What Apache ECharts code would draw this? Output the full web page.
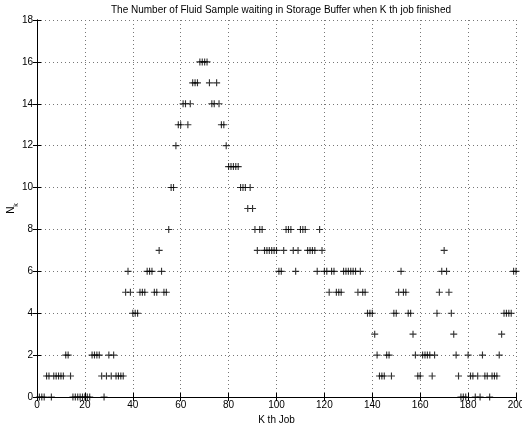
<!DOCTYPE html>
<html><head><meta charset="utf-8">
<script src="https://cdn.jsdelivr.net/npm/echarts@6/dist/echarts.min.js"></script>
<style>html,body{margin:0;padding:0;background:#fff}#c{width:522px;height:431px}</style>
</head><body><div id="c"></div>
<script>
const titleText = 'The Number of Fluid Sample waiting in Storage Buffer when K th job finished';
const xAxisTitle = 'K th Job';
// N_k for k = 1..200
const waitingCounts = [
  0,0,0,1,1,0,1,1,1,1,
  1,2,2,1,0,0,0,0,0,0,
  0,0,2,2,2,2,1,0,1,2,
  1,2,1,1,1,1,5,6,5,4,
  4,4,5,5,5,6,6,6,5,5,
  7,6,5,5,8,10,10,12,13,13,
  14,14,13,14,15,15,15,16,16,16,
  16,15,14,14,15,14,13,13,12,11,
  11,11,11,11,10,10,10,9,10,9,
  8,7,8,8,7,7,7,7,7,7,
  6,6,7,8,8,8,7,6,7,8,
  8,8,7,7,7,7,6,8,7,6,
  6,5,6,6,5,5,5,6,6,6,
  6,6,6,5,6,5,5,4,4,4,
  3,2,1,1,1,2,2,1,4,4,
  5,6,5,5,4,4,3,2,1,1,
  2,2,2,2,1,2,4,5,6,7,
  6,5,4,3,2,1,0,0,0,2,
  1,1,0,1,0,2,1,1,0,1,
  1,1,2,3,4,4,4,4,6,6
];
const xTickValues = [0,20,40,60,80,100,120,140,160,180,200];
const yTickValues = [0,2,4,6,8,10,12,14,16,18];

const points = waitingCounts.map((v, i) => [i + 1, v]);
const plusPath = 'path://M4.2,0 H5.8 V4.2 H10 V5.8 H5.8 V10 H4.2 V5.8 H0 V4.2 H4.2 Z';
const FONT = 'Liberation Sans, Arial, Helvetica, sans-serif';
const dotted = { show: true, lineStyle: { color: '#777', width: 1, type: [1, 3] } };
const lbl = { color: '#000', fontSize: 10, fontFamily: FONT };

const chart = echarts.init(document.getElementById('c'), null, { renderer: 'canvas' });
chart.setOption({
  animation: false,
  backgroundColor: '#fff',
  title: {
    text: titleText, left: 276, top: 0, textAlign: 'center',
    textStyle: { fontSize: 10, fontWeight: 'normal', color: '#000', fontFamily: FONT }
  },
  grid: { left: 37, right: 6, top: 20, bottom: 34, show: false, containLabel: false, outerBoundsMode: 'none' },
  xAxis: [{
    type: 'value', min: xTickValues[0], max: xTickValues[xTickValues.length - 1],
    interval: xTickValues[1] - xTickValues[0],
    name: xAxisTitle, nameLocation: 'middle', nameGap: 17,
    nameTextStyle: { color: '#000', fontSize: 10, fontFamily: FONT },
    axisLine: { show: true, lineStyle: { color: '#000', width: 1 } },
    axisTick: { show: true, inside: true, length: 4, lineStyle: { color: '#000' } },
    axisLabel: Object.assign({ margin: 3 }, lbl),
    splitLine: dotted
  }, {
    type: 'value', position: 'top', min: xTickValues[0], max: xTickValues[xTickValues.length - 1],
    interval: xTickValues[1] - xTickValues[0],
    axisLine: { show: true, lineStyle: { color: '#000', width: 1 } },
    axisTick: { show: true, inside: true, length: 4, lineStyle: { color: '#000' } },
    axisLabel: { show: false }, splitLine: { show: false }
  }],
  yAxis: [{
    type: 'value', min: yTickValues[0], max: yTickValues[yTickValues.length - 1],
    interval: yTickValues[1] - yTickValues[0],
    name: '{n|N}{k|k}', nameLocation: 'middle', nameGap: 17, nameRotate: 90, nameMoveOverlap: false,
    nameTextStyle: {
      color: '#000', fontFamily: FONT,
      rich: { n: { fontSize: 10, fontFamily: FONT, color: '#000', verticalAlign: 'top', lineHeight: 14 },
              k: { fontSize: 7, fontFamily: FONT, color: '#000', verticalAlign: 'bottom', lineHeight: 14, padding: [6, 0, 0, 0] } }
    },
    axisLine: { show: true, lineStyle: { color: '#000', width: 1 } },
    axisTick: { show: true, inside: true, length: 4, lineStyle: { color: '#000' } },
    axisLabel: Object.assign({ margin: 4 }, lbl),
    splitLine: dotted
  }, {
    type: 'value', position: 'right', min: yTickValues[0], max: yTickValues[yTickValues.length - 1],
    interval: yTickValues[1] - yTickValues[0],
    axisLine: { show: true, lineStyle: { color: '#000', width: 1 } },
    axisTick: { show: true, inside: true, length: 4, lineStyle: { color: '#000' } },
    axisLabel: { show: false }, splitLine: { show: false }
  }],
  series: [{
    type: 'scatter', xAxisIndex: 0, yAxisIndex: 0,
    data: points, symbol: plusPath, symbolSize: 7,
    itemStyle: { color: '#000' }, clip: false, z: 5
  }]
});
</script></body></html>
